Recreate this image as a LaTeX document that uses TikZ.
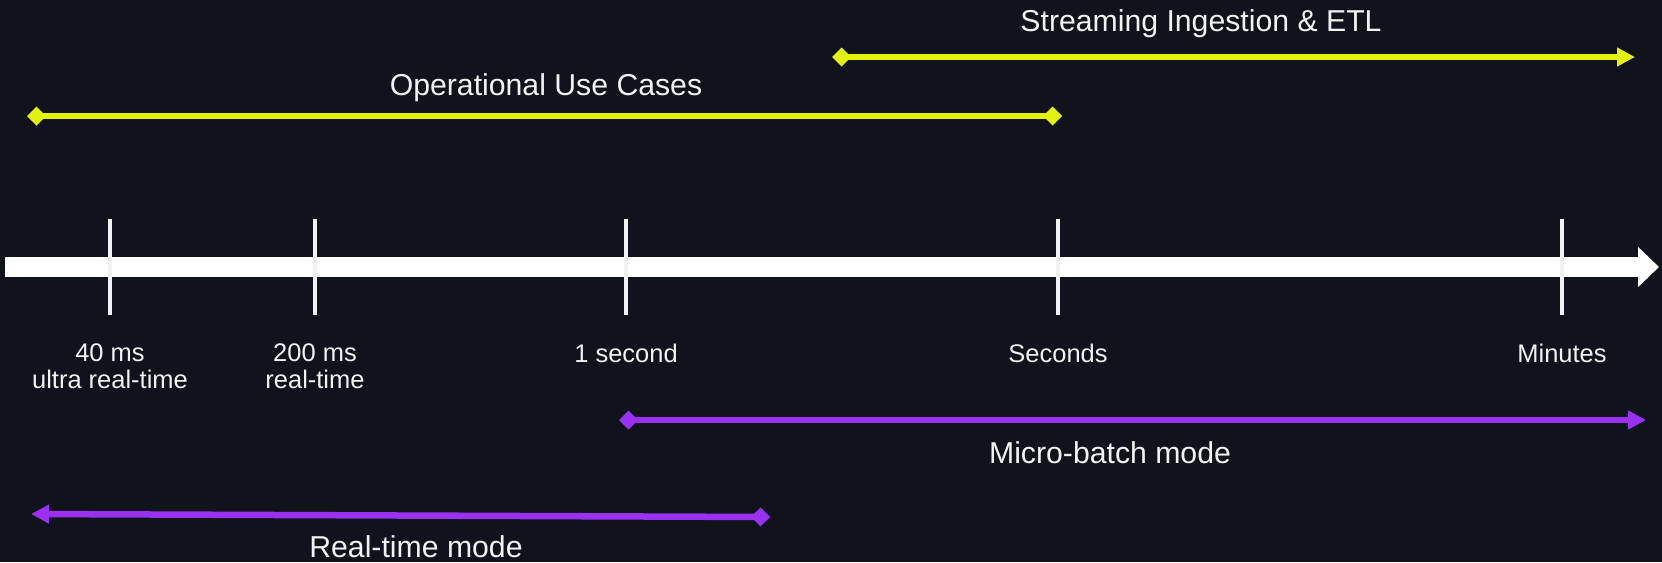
\documentclass[tikz,border=0pt]{standalone}
\usepackage{fontspec}
\setmainfont{Liberation Sans}
\usetikzlibrary{arrows.meta}
\definecolor{LatBack}{HTML}{10121C}
\definecolor{LatYellow}{HTML}{E3F20C}
\definecolor{LatPurple}{HTML}{9A30F2}
\definecolor{LatText}{HTML}{F2F2F2}

\begin{document}
\begin{tikzpicture}[x=0.02cm,y=-0.02cm,
  tick/.style={LatText,line width=0.08cm},
  ticklabel/.style={text=LatText,align=center,anchor=base,inner sep=0pt,
    font=\fontsize{14.5pt}{15pt}\selectfont},
  spanlabel/.style={text=LatText,anchor=base,inner sep=0pt,
    font=\fontsize{17.2pt}{20pt}\selectfont},
  span/.style={line width=0.13cm},
  dia/.tip={Diamond[length=0.38cm,width=0.38cm]},
  tri/.tip={Triangle[length=0.36cm,width=0.36cm]}]
  \fill[LatBack] (0,0) rectangle (1662,562);
  \useasboundingbox (0,0) rectangle (1662,562);

  % time axis
  \coordinate (axL) at (5,267);
  \coordinate (axR) at (1659,267);
  \draw[white,line width=0.4cm,-{Triangle[length=0.42cm,width=0.78cm]}] (axL) -- (axR);

  % ticks and their labels (base = last line)
  \foreach \n/\x/\y/\txt in {a/110/388/{40 ms\\ultra real-time},b/315/388/{200 ms\\real-time},
      c/626/362/{1 second},d/1058/362/{Seconds},e/1562/362/{Minutes}} {
    \coordinate (tt\n) at (\x,219);
    \coordinate (tb\n) at (\x,315);
    \draw[tick] (tt\n) -- (tb\n);
    \node[ticklabel] (lb\n) at (\x,\y) {\txt};
  }

  % yellow ranges
  \coordinate (opL) at (27,116);
  \coordinate (opR) at (1062,116);
  \draw[span,LatYellow,dia-dia] (opL) -- (opR);
  \node[spanlabel] (opText) at (546,95) {Operational Use Cases};

  \coordinate (stL) at (832,57);
  \coordinate (stR) at (1635,57);
  \draw[span,LatYellow,dia-tri] (stL) -- (stR);
  \node[spanlabel] (stText) at (1201,31) {Streaming Ingestion \& ETL};

  % purple ranges
  \coordinate (mbL) at (619,420);
  \coordinate (mbR) at (1646,420);
  \draw[span,LatPurple,dia-tri] (mbL) -- (mbR);
  \node[spanlabel] (mbText) at (1110,463) {Micro-batch mode};

  \coordinate (rtL) at (31,514);
  \coordinate (rtR) at (770,517);
  \draw[span,LatPurple,tri-dia] (rtL) -- (rtR);
  \node[spanlabel] (rtText) at (416,557) {Real-time mode};
\end{tikzpicture}
\end{document}
